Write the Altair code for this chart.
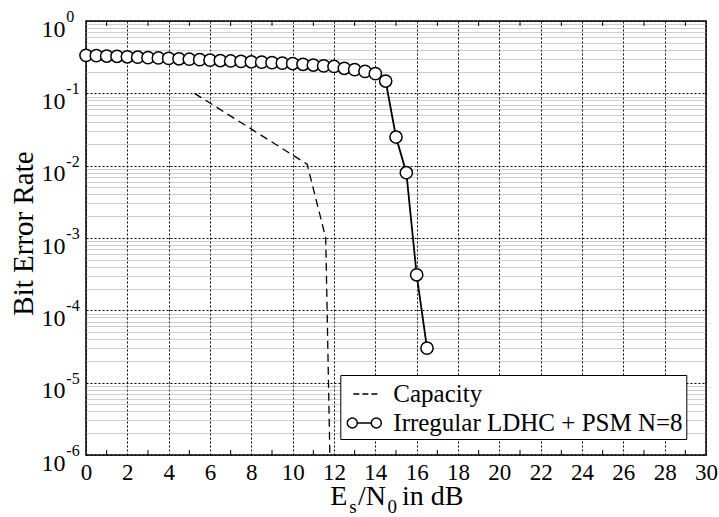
import altair as alt
import pandas as pd

# ---------------- data ----------------
series_names = ["Capacity", "Irregular LDHC + PSM N=8"]

ldhc_x = [0, 0.5, 1, 1.5, 2, 2.5, 3, 3.5, 4, 4.5, 5, 5.5, 6, 6.5, 7, 7.5,
          8, 8.5, 9, 9.5, 10, 10.5, 11, 11.5, 12, 12.5, 13, 13.5, 14, 14.5,
          15, 15.5, 16, 16.5]
ldhc_ber = [0.335, 0.332, 0.328, 0.325, 0.320, 0.316, 0.312, 0.308, 0.304,
            0.300, 0.296, 0.292, 0.288, 0.284, 0.280, 0.277, 0.273, 0.270,
            0.266, 0.262, 0.258, 0.252, 0.246, 0.240, 0.235, 0.222, 0.213,
            0.201, 0.187, 0.148, 0.0249, 0.0080, 0.00031, 0.000030]

cap_x = [5.25, 10.7, 11.6, 11.8]
cap_ber = [0.1, 0.0105, 0.001, 0.000001]

x_label_values = [0, 2, 4, 6, 8, 10, 12, 14, 16, 18, 20, 22, 24, 26, 28, 30]
x_minor_ticks = [1, 3, 5, 7, 9, 11, 13, 15, 17, 19, 21, 23, 25, 27, 29]
y_decades = [1, 0.1, 0.01, 0.001, 0.0001, 0.00001, 0.000001]
y_exponents = ["0", "-1", "-2", "-3", "-4", "-5", "-6"]
y_minor_mult = [1, 2, 3, 4, 5, 6, 7, 8, 9]

y_tick_values = sorted({round(m * d, 12) for d in y_decades[1:] for m in y_minor_mult} | {1.0})

ldhc_df = pd.DataFrame({"x": ldhc_x, "ber": ldhc_ber, "series": series_names[1]})
cap_df = pd.DataFrame({"x": cap_x, "ber": cap_ber, "series": series_names[0]})
exp_df = pd.DataFrame({"ber": y_decades, "exp": y_exponents})
tick_df = pd.DataFrame({"x": x_minor_ticks})

FONT = "Liberation Serif"

xs = alt.Scale(domain=[0, 30], nice=False, zero=False)
ys = alt.Scale(type="log", domain=[0.000001, 1], nice=False)

is_decade = "abs(log(datum.value)/LN10 - round(log(datum.value)/LN10)) < 0.000001"

xaxis = alt.Axis(
    values=x_label_values, title=None, labelFont=FONT, labelFontSize=23,
    labelColor="black", labelPadding=6, labelFlush=False, labelOverlap=False,
    ticks=False, domain=False, grid=True, gridColor="black",
    gridDash=[2, 2], gridWidth=1, gridOpacity=1,
)
yaxis = alt.Axis(
    values=y_tick_values, title="Bit Error Rate", titleFont=FONT,
    titleFontSize=29, titleFontWeight="normal", titleColor="black",
    titleAngle=270, titleX=-53.5, titleY=212, titleAlign="center",
    titleBaseline="alphabetic",
    labelExpr=f"({is_decade}) ? '10' : ''", labelFont=FONT, labelFontSize=24,
    labelColor="black", labelPadding=21, labelOffset=8,
    labelBaseline="middle", labelAlign="right", labelOverlap=False,
    labelFlush=False,
    ticks=False, domain=False, grid=True, gridWidth=1, gridOpacity=1,
    gridColor={"condition": {"test": is_decade, "value": "black"}, "value": "#9a9a9a"},
    gridDash={"condition": {"test": is_decade, "value": [2, 2]}, "value": [1, 1]},
)

X = alt.X("x:Q", scale=xs, axis=xaxis)
Y = alt.Y("ber:Q", scale=ys, axis=yaxis)

cap_line = alt.Chart(cap_df).mark_line(
    color="black", strokeDash=[8, 5], strokeWidth=1.3
).encode(x=X, y=Y)

ldhc_line = alt.Chart(ldhc_df).mark_line(
    color="black", strokeWidth=1.8
).encode(x=X, y=Y)

ldhc_pts = alt.Chart(ldhc_df).mark_point(
    shape="circle", filled=True, fill="white", stroke="black",
    strokeWidth=1.5, size=150, opacity=1
).encode(x=X, y=Y)

# legend (driven by a shape scale with custom symbols)
dash_path = "M-0.73,0H-0.33M-0.13,0H0.27M0.47,0H0.87"
circ_path = ("M-1.133,0A0.333,0.333,0,1,1,-0.467,0A0.333,0.333,0,1,1,-1.133,0Z"
             "M-0.467,0L0.467,0"
             "M0.467,0A0.333,0.333,0,1,1,1.133,0A0.333,0.333,0,1,1,0.467,0Z")

legend_layer = alt.Chart(ldhc_df).transform_filter("false").mark_point(
    filled=False, color="black", strokeWidth=1.5, opacity=1
).encode(
    x=X, y=Y,
    shape=alt.Shape(
        "series:N",
        scale=alt.Scale(domain=series_names, range=[dash_path, circ_path]),
        legend=alt.Legend(
            title=None, orient="none", legendX=254.3, legendY=354,
            direction="vertical", fillColor="white", strokeColor="black",
            padding=3, rowPadding=0, symbolSize=900, symbolOffset=5,
            symbolStrokeWidth=1.5, symbolFillColor="white",
            symbolStrokeColor="black", symbolOpacity=1, labelOffset=13,
            labelFont=FONT, labelFontSize=25, labelColor="black",
            labelLimit=500,
        ),
    ),
)

# inward minor ticks at odd x values (bottom and top)
ticks_bottom = alt.Chart(tick_df).mark_rule(color="black", strokeWidth=1).encode(
    x=X, y=alt.value(434), y2=alt.value(429)
)
ticks_top = alt.Chart(tick_df).mark_rule(color="black", strokeWidth=1).encode(
    x=X, y=alt.value(0), y2=alt.value(5)
)

# exponent part of the y tick labels
exp_text = alt.Chart(exp_df).mark_text(
    align="left", baseline="middle", fontSize=16, font=FONT, color="black", dy=-4
).encode(x=alt.value(-19.7), y=Y, text="exp:N")

# x-axis title with subscripts
one = pd.DataFrame({"k": [0]})
def piece(txt, size, px, py):
    return alt.Chart(one).mark_text(
        align="left", baseline="alphabetic", fontSize=size, font=FONT, color="black"
    ).encode(x=alt.value(px), y=alt.value(py), text=alt.value(txt))

xtitle = (piece("E", 28, 244.3, 484.0) + piece("s", 19, 263.3, 492.0)
          + piece("/N", 28, 272.0, 484.0) + piece("0", 19, 301.5, 492.0)
          + piece("in dB", 28, 316.0, 484.0))

chart = alt.layer(
    ticks_bottom, ticks_top, cap_line, ldhc_line, ldhc_pts, legend_layer,
    exp_text, xtitle
).properties(
    width=620, height=434,
    padding={"left": 86, "top": 21, "right": 13, "bottom": 62},
    autosize=alt.AutoSizeParams(type="none"),
).configure(font=FONT).configure_view(stroke="black", strokeWidth=1.5)

chart.save("out.html", embed_options={"renderer": "svg", "actions": False})
